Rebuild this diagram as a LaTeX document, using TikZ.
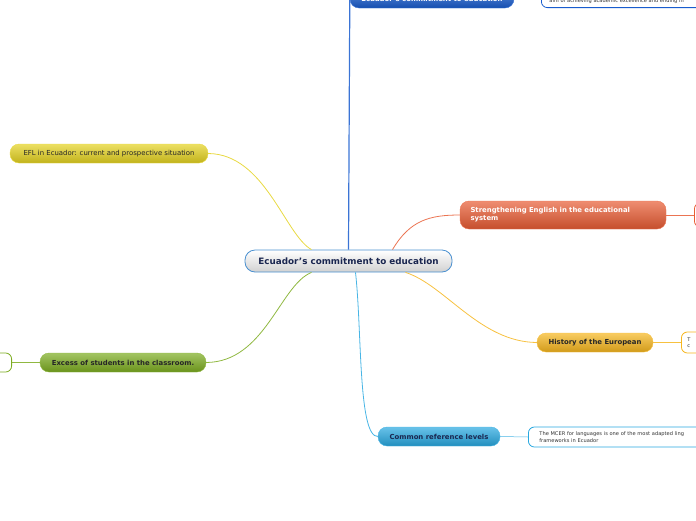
\documentclass[tikz,border=0pt]{standalone}
\usepackage{fontspec}
\setsansfont{DejaVu Sans}
\usepackage{tikz}
\usetikzlibrary{calc}
\definecolor{rootline}{RGB}{74,144,208}
\definecolor{roottext}{RGB}{26,38,80}
\definecolor{deepblue}{RGB}{24,92,206}
\definecolor{redorange}{RGB}{232,92,52}
\definecolor{amber}{RGB}{246,182,30}
\definecolor{skyblue}{RGB}{40,168,224}
\definecolor{mustard}{RGB}{228,210,32}
\definecolor{leaf}{RGB}{124,172,32}
\tikzset{
  root/.style={rectangle, rounded corners=10pt, draw=rootline, thick, top color=white, bottom color=black!18,
               minimum width=207pt, minimum height=22pt, font=\sffamily\bfseries\fontsize{8.8}{10}\selectfont, text=roottext},
  topic/.style={rectangle, rounded corners=9pt, draw=#1!85!white, top color=#1!70!white, bottom color=#1!85!black,
                minimum height=19pt, inner xsep=8pt, font=\sffamily\bfseries\fontsize{6.9}{8}\selectfont},
  note/.style={rectangle, rounded corners=6pt, draw=#1, thick, fill=white, align=left,
               inner xsep=8pt, font=\sffamily\fontsize{5.1}{6.3}\selectfont, text=black!80},
  branch/.style={line width=0.8pt, draw=#1!85!white},
}
\begin{document}
\begin{tikzpicture}[x=1pt, y=-1pt]
\useasboundingbox (0,0) rectangle (696,520);
\clip (0,0) rectangle (696,520);

% Centro
\node[root] (root) at (348.5,261) {Ecuador's commitment to education};

% Temas principales
\node[topic=deepblue, text=white, minimum width=164pt] (top) at (432,-1.5) {Ecuador's commitment to education};
\node[topic=redorange, text=white, minimum width=206pt, minimum height=28pt, align=left, text width=185pt]
  (eng) at (563,215) {Strengthening English in the educational\\system};
\node[topic=amber, text=black!85, minimum width=116pt] (hist) at (595,342.5) {History of the European};
\node[topic=skyblue, text=roottext, minimum width=122pt] (cefr) at (439,436.5) {Common reference levels};
\node[topic=mustard, text=black!85, minimum width=198pt, font=\sffamily\fontsize{6.9}{8}\selectfont]
  (efl) at (109,153.5) {EFL in Ecuador: current and prospective situation};
\node[topic=leaf, text=black!85, minimum width=166pt] (excess) at (123,362.5) {Excess of students in the classroom.};

% Notas
\node[note=deepblue, anchor=south west, text width=190pt, minimum height=14pt, inner ysep=2pt] (topnote) at (541,8)
  {aim of achieving academic excellence and ending in};
\node[note=redorange, anchor=west, minimum width=60pt, minimum height=24pt] (engnote) at (694,215) {};
\node[note=amber, anchor=west, text width=30pt, minimum height=21pt, inner ysep=2pt, inner xsep=6pt] (histnote) at (681,342.5) {T\\c};
\node[note=skyblue, anchor=west, text width=200pt, minimum height=20pt, inner ysep=2pt, inner xsep=11pt] (cefrnote) at (528,437)
  {The MCER for languages is one of the most adapted ling\\frameworks in Ecuador};
\node[note=leaf, anchor=east, minimum width=40pt, minimum height=19pt] (excessnote) at (12,362.5) {};

% Conexiones
\draw[branch=deepblue, line width=1.2pt] (root.north) -- (top.west);
\draw[branch=redorange] ($(root.north)+(44,0)$) .. controls (410,220) and (430,215) .. (eng.west);
\draw[branch=amber] ($(root.south)+(57,0)$) .. controls (445,285) and (480,342) .. (hist.west);
\draw[branch=skyblue] ($(root.south)+(7,0)$) .. controls (362,330) and (358,437) .. (cefr.west);
\draw[branch=mustard] (efl.east) .. controls (265,154) and (285,235) .. ($(root.north)+(-37,0)$);
\draw[branch=leaf] (excess.east) .. controls (265,362) and (280,285) .. ($(root.south)+(-37,0)$);

\draw[branch=redorange, line width=0.5pt] (eng.east) -- (engnote.west);
\draw[branch=amber, line width=0.5pt] (hist.east) -- (histnote.west);
\draw[branch=skyblue, line width=0.5pt] (cefr.east) -- (cefrnote.west);
\draw[branch=leaf, line width=0.5pt] (excess.west) -- (excessnote.east);
\end{tikzpicture}
\end{document}
